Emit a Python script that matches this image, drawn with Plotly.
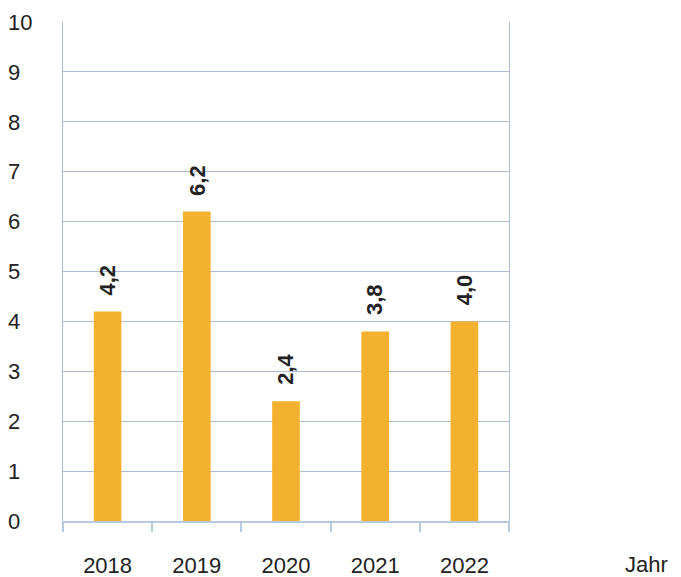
import plotly.graph_objects as go

years = ["2018", "2019", "2020", "2021", "2022"]
values = [4.2, 6.2, 2.4, 3.8, 4.0]
labels = ["4,2", "6,2", "2,4", "3,8", "4,0"]
y_ticks = list(range(0, 11))
y_ticktext = [f"{v}\u2007" if v < 10 else str(v) for v in y_ticks]
x_pos = list(range(len(years)))

BAR = "#f4b12f"
GRID = "#a9bdd8"
AXIS = "#b7c9de"
TXT = "#222222"
FONT = "Liberation Sans"

fig = go.Figure()
fig.add_trace(go.Bar(x=x_pos, y=values, width=0.31, marker=dict(color=BAR, line=dict(width=0)),
                     hoverinfo="skip"))

for x, v, t in zip(x_pos, values, labels):
    fig.add_annotation(x=x, y=v, text=f"<b>{t}</b>", textangle=-90, showarrow=False,
                       yanchor="bottom", yshift=14, font=dict(family=FONT, size=22, color=TXT))

fig.add_annotation(xref="paper", yref="paper", x=1.362, y=0, yshift=-43, text="Jahr",
                   showarrow=False, xanchor="right", yanchor="middle",
                   font=dict(family=FONT, size=22, color=TXT))

fig.update_layout(
    width=673, height=569,
    margin=dict(l=55, r=172, t=14, b=56),
    plot_bgcolor="white", paper_bgcolor="white",
    showlegend=False,
    font=dict(family=FONT, size=22, color=TXT),
)
fig.update_xaxes(
    range=[-0.5, 4.5], tickvals=x_pos, ticktext=years, ticks="",
    minor=dict(tick0=0.5, dtick=1, ticks="outside", ticklen=9, tickwidth=2, tickcolor=AXIS, showgrid=False),
    showline=True, linecolor=AXIS, linewidth=2, automargin=False,
    showgrid=False, zeroline=False, ticklabelstandoff=24,
    tickfont=dict(family=FONT, size=22, color=TXT),
)
fig.update_yaxes(
    range=[0, 10], tickvals=y_ticks, ticktext=y_ticktext, showgrid=True, gridcolor=GRID,
    gridwidth=1, showline=True, linecolor=GRID, linewidth=1, mirror=True, zeroline=False,
    ticks="", ticklabelstandoff=25, automargin=False,
    tickfont=dict(family=FONT, size=22, color=TXT),
)

fig.write_html("out.html")
